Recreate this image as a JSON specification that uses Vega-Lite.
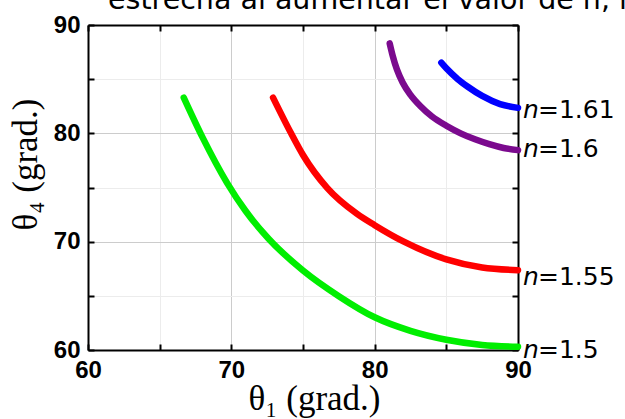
{
  "$schema": "https://vega.github.io/schema/vega-lite/v6.json",
  "width": 430,
  "height": 325,
  "autosize": "none",
  "padding": {"left": 88, "top": 25, "right": 107, "bottom": 69},
  "background": "white",
  "config": {"view": {"stroke": null}},
  "title": {
    "text": "estrecha al aumentar el valor de n, la",
    "anchor": "start",
    "frame": "group",
    "dx": 20,
    "offset": 0,
    "dy": 24,
    "baseline": "alphabetic",
    "font": "DejaVu Sans",
    "fontSize": 28.5,
    "fontWeight": "normal",
    "color": "black"
  },
  "datasets": {
    "curves": [
      {"n": "1.5", "x": 66.68, "y": 83.3},
      {"n": "1.5", "x": 68.0, "y": 79.6},
      {"n": "1.5", "x": 69.7, "y": 75.43},
      {"n": "1.5", "x": 71.0, "y": 72.83},
      {"n": "1.5", "x": 72.6, "y": 70.27},
      {"n": "1.5", "x": 75.0, "y": 67.34},
      {"n": "1.5", "x": 77.5, "y": 64.97},
      {"n": "1.5", "x": 80.0, "y": 63.02},
      {"n": "1.5", "x": 82.5, "y": 61.77},
      {"n": "1.5", "x": 85.0, "y": 60.95},
      {"n": "1.5", "x": 87.5, "y": 60.47},
      {"n": "1.5", "x": 90.0, "y": 60.3},
      {"n": "1.55", "x": 72.91, "y": 83.3},
      {"n": "1.55", "x": 74.17, "y": 80.0},
      {"n": "1.55", "x": 75.0, "y": 78.0},
      {"n": "1.55", "x": 76.7, "y": 74.94},
      {"n": "1.55", "x": 78.75, "y": 72.58},
      {"n": "1.55", "x": 80.0, "y": 71.52},
      {"n": "1.55", "x": 82.0, "y": 70.02},
      {"n": "1.55", "x": 85.0, "y": 68.37},
      {"n": "1.55", "x": 87.5, "y": 67.62},
      {"n": "1.55", "x": 90.0, "y": 67.37},
      {"n": "1.6", "x": 81.05, "y": 88.3},
      {"n": "1.6", "x": 81.25, "y": 87.2},
      {"n": "1.6", "x": 81.55, "y": 85.9},
      {"n": "1.6", "x": 81.95, "y": 84.7},
      {"n": "1.6", "x": 82.5, "y": 83.55},
      {"n": "1.6", "x": 83.2, "y": 82.5},
      {"n": "1.6", "x": 84.0, "y": 81.55},
      {"n": "1.6", "x": 85.0, "y": 80.7},
      {"n": "1.6", "x": 86.0, "y": 80.0},
      {"n": "1.6", "x": 87.0, "y": 79.45},
      {"n": "1.6", "x": 88.0, "y": 79.0},
      {"n": "1.6", "x": 89.0, "y": 78.65},
      {"n": "1.6", "x": 90.0, "y": 78.45},
      {"n": "1.61", "x": 84.65, "y": 86.52},
      {"n": "1.61", "x": 85.0, "y": 86.0},
      {"n": "1.61", "x": 85.8, "y": 85.0},
      {"n": "1.61", "x": 86.5, "y": 84.3},
      {"n": "1.61", "x": 87.5, "y": 83.45},
      {"n": "1.61", "x": 88.75, "y": 82.7},
      {"n": "1.61", "x": 90.0, "y": 82.35}
    ],
    "labels": [
      {"rest": "=1.61", "x": 90, "y": 81.41},
      {"rest": "=1.6", "x": 90, "y": 77.82},
      {"rest": "=1.55", "x": 90, "y": 66.0},
      {"rest": "=1.5", "x": 90, "y": 59.25}
    ]
  },
  "layer": [
    {
      "data": {"name": "curves"},
      "mark": {"type": "line", "opacity": 0},
      "encoding": {
        "x": {
          "field": "x", "type": "quantitative",
          "scale": {"domain": [60, 90], "nice": false, "zero": false},
          "axis": {
            "orient": "top", "values": [60, 65, 70, 75, 80, 85, 90],
            "labels": false, "title": null, "grid": false,
            "tickSize": -6, "tickWidth": 2, "tickColor": "black",
            "domainColor": "black", "domainWidth": 2
          }
        },
        "y": {
          "field": "y", "type": "quantitative",
          "scale": {"domain": [60, 90], "nice": false, "zero": false},
          "axis": {
            "orient": "right", "values": [60, 65, 70, 75, 80, 85, 90],
            "labels": false, "title": null, "grid": false,
            "tickSize": -6, "tickWidth": 2, "tickColor": "black",
            "domainColor": "black", "domainWidth": 2
          }
        },
        "detail": {"field": "n"}
      }
    },
    {
      "data": {"name": "curves"},
      "mark": {"type": "line", "strokeWidth": 6.5, "strokeCap": "round", "strokeJoin": "round", "interpolate": "monotone"},
      "encoding": {
        "x": {
          "field": "x", "type": "quantitative",
          "axis": {
            "orient": "bottom", "values": [60, 65, 70, 75, 80, 85, 90],
            "labelExpr": "datum.value % 10 === 0 ? datum.label : ''",
            "labelFont": "Liberation Sans", "labelFontWeight": "bold", "labelFontSize": 24,
            "labelColor": "black", "labelPadding": 14, "labelFlush": false,
            "tickSize": -6, "tickWidth": 2, "tickColor": "black",
            "domainColor": "black", "domainWidth": 2,
            "grid": true,
            "gridColor": {"condition": {"test": "datum.value % 10 === 0", "value": "#cccccc"}, "value": "#ececec"},
            "gridWidth": 1,
            "title": "θ₁ (grad.)", "titleFont": "Liberation Serif", "titleFontSize": 35,
            "titleFontWeight": "normal", "titleColor": "black",
            "titleAlign": "center", "titleX": 226,
            "titleBaseline": "alphabetic", "titleY": 59
          }
        },
        "y": {
          "field": "y", "type": "quantitative",
          "axis": {
            "orient": "left", "values": [60, 65, 70, 75, 80, 85, 90],
            "labelExpr": "datum.value % 10 === 0 ? datum.label : ''",
            "labelFont": "Liberation Sans", "labelFontWeight": "bold", "labelFontSize": 24,
            "labelColor": "black", "labelPadding": 14, "labelFlush": false,
            "tickSize": -6, "tickWidth": 2, "tickColor": "black",
            "domainColor": "black", "domainWidth": 2,
            "grid": true,
            "gridColor": {"condition": {"test": "datum.value % 10 === 0", "value": "#cccccc"}, "value": "#ececec"},
            "gridWidth": 1,
            "title": "θ₄ (grad.)", "titleFont": "Liberation Serif", "titleFontSize": 35,
            "titleFontWeight": "normal", "titleColor": "black",
            "titleAngle": -90, "titleBaseline": "alphabetic", "titleAlign": "center",
            "titleX": -52, "titleY": 139
          }
        },
        "color": {
          "field": "n", "type": "nominal",
          "scale": {"domain": ["1.5", "1.55", "1.6", "1.61"], "range": ["#00ee00", "#ff0000", "#7b0a8e", "#0000ff"]},
          "legend": null
        }
      }
    },
    {
      "data": {"name": "labels"},
      "mark": {"type": "text", "text": "n", "align": "left", "baseline": "alphabetic", "dx": 5, "font": "DejaVu Sans", "fontStyle": "italic", "fontSize": 25, "color": "black"},
      "encoding": {
        "x": {"field": "x", "type": "quantitative", "axis": null},
        "y": {"field": "y", "type": "quantitative", "axis": null}
      }
    },
    {
      "data": {"name": "labels"},
      "mark": {"type": "text", "align": "left", "baseline": "alphabetic", "dx": 20, "font": "DejaVu Sans", "fontSize": 25, "color": "black"},
      "encoding": {
        "x": {"field": "x", "type": "quantitative", "axis": null},
        "y": {"field": "y", "type": "quantitative", "axis": null},
        "text": {"field": "rest"}
      }
    }
  ],
  "resolve": {"axis": {"x": "independent", "y": "independent"}}
}
